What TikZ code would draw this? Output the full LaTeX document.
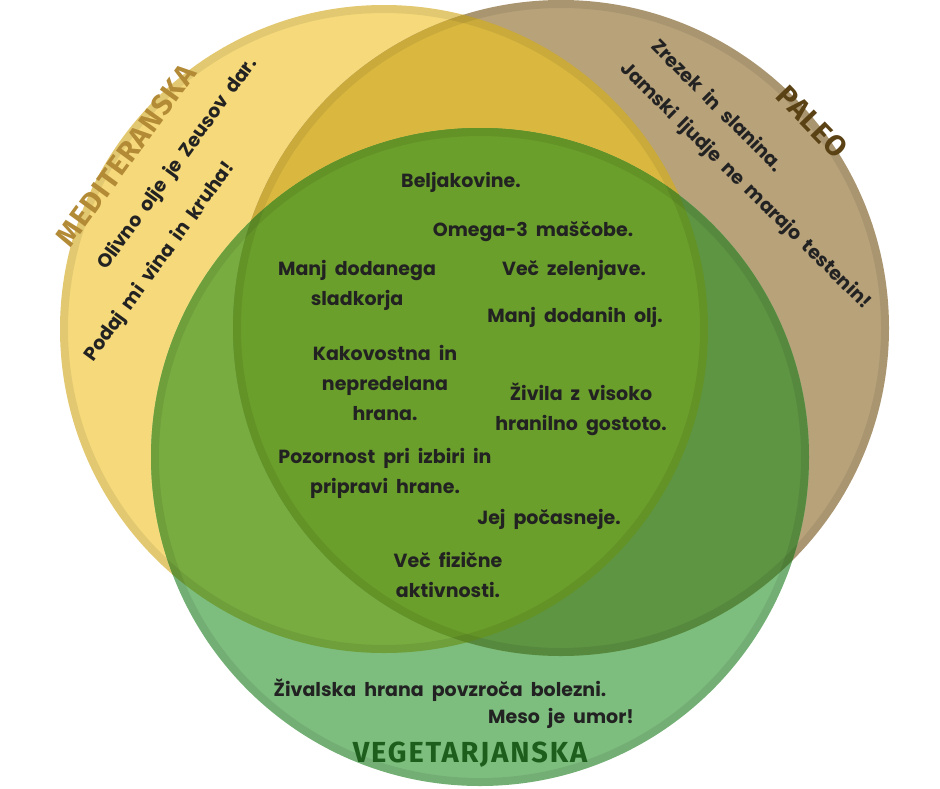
\documentclass[tikz,border=0pt]{standalone}
\usepackage{fontspec}
\setmainfont{Poppins}
\newfontfamily\titlefont[LetterSpace=4]{Fira Sans}
\newfontfamily\vegfont[LetterSpace=6.5]{Fira Sans}
\definecolor{cY}{HTML}{F5D97A}
\definecolor{cT}{HTML}{B7A27A}
\definecolor{cG}{HTML}{7DBE7E}
\definecolor{cYT}{HTML}{DAB840}
\definecolor{cYG}{HTML}{78AC40}
\definecolor{cTG}{HTML}{5E9543}
\definecolor{cYTG}{HTML}{6B9F2B}
\definecolor{ink}{HTML}{222222}
\definecolor{medc}{HTML}{B38A35}
\definecolor{paleoc}{HTML}{5B4215}
\definecolor{vegc}{HTML}{1D5E1D}
\newcommand{\widesp}{\spaceskip=0.42em plus 0.1em\relax}
\tikzset{
  border/.style={draw=black, draw opacity=0.075, line width=8pt},
  txt/.style={text=ink, font=\bfseries\fontsize{19}{30}\selectfont\widesp, align=center, inner sep=0pt},
  ttl/.style={font=\titlefont\bfseries\fontsize{29}{30}\selectfont, inner sep=0pt}
}
\begin{document}
\begin{tikzpicture}[x=1pt,y=-1pt]
\useasboundingbox (0,0) rectangle (940,788);
\coordinate (cy) at (384,329);
\coordinate (ct) at (561,328);
\coordinate (cg) at (480,457);
% base fills
\fill[cY] (cy) circle[radius=324];
\fill[cT] (ct) circle[radius=328];
\fill[cG] (cg) circle[radius=329];
% overlaps
\begin{scope}
  \clip (cy) circle[radius=324];
  \fill[cYT] (ct) circle[radius=328];
\end{scope}
\begin{scope}
  \clip (cy) circle[radius=324];
  \fill[cYG] (cg) circle[radius=329];
\end{scope}
\begin{scope}
  \clip (ct) circle[radius=328];
  \fill[cTG] (cg) circle[radius=329];
\end{scope}
\begin{scope}
  \clip (cy) circle[radius=324];
  \clip (ct) circle[radius=328];
  \fill[cYTG] (cg) circle[radius=329];
\end{scope}
% borders
\draw[border] (cy) circle[radius=320];
\draw[border] (ct) circle[radius=324];
\draw[border] (cg) circle[radius=325];
% titles
\node[ttl, text=medc, rotate=54] (tmed) at (126,155) {MEDITERANSKA};
\node[ttl, text=paleoc, rotate=-46] (tpal) at (812,122) {PALEO};
\node[ttl, text=vegc, font=\vegfont\bfseries\fontsize{29}{30}\selectfont] (tveg) at (470,755) {VEGETARJANSKA};
% outer texts
\node[txt, rotate=54] (m1) at (178,164) {Olivno olje je Zeusov dar.};
\node[txt, rotate=54] (m2) at (160,262) {Podaj mi vina in kruha!};
\node[txt, rotate=-45] (p1) at (718,105) {Zrezek in slanina.};
\node[txt, rotate=-44.5] (p2) at (745,186) {Jamski ljudje ne marajo testenin!};
\node[txt] (v1) at (440,690) {Živalska hrana povzroča bolezni.};
\node[txt] (v2) at (561,718) {Meso je umor!};
% centre texts
\node[txt] (c1) at (461,182) {Beljakovine.};
\node[txt] (c2) at (533,232) {Omega-3 maščobe.};
\node[txt] (c3) at (357,285) {Manj dodanega\\sladkorja};
\node[txt] (c4) at (574,270) {Več zelenjave.};
\node[txt] (c5) at (575,317) {Manj dodanih olj.};
\node[txt] (c6) at (385,383) {Kakovostna in\\nepredelana\\hrana.};
\node[txt] (c7) at (581,409) {Živila z visoko\\hranilno gostoto.};
\node[txt] (c8) at (385,473) {Pozornost pri izbiri in\\pripravi hrane.};
\node[txt] (c9) at (549,519) {Jej počasneje.};
\node[txt] (c10) at (448,575) {Več fizične\\aktivnosti.};
\end{tikzpicture}
\end{document}
